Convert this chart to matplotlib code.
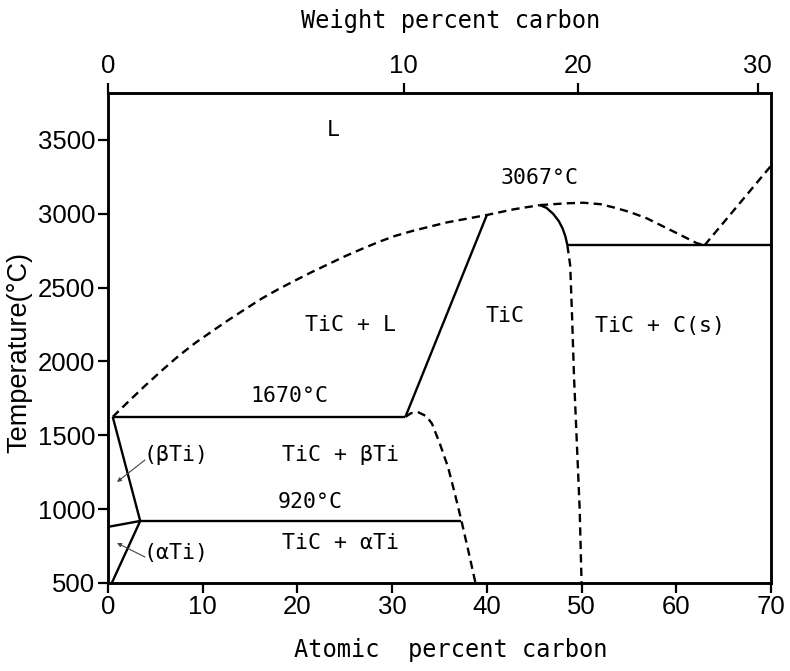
import matplotlib
matplotlib.use('Agg')
import matplotlib.pyplot as plt
from matplotlib import font_manager

# Ti-C phase diagram
# liquidus, Ti-rich side (dashed)
liq_x = [0.5, 2.1, 3.9, 5.7, 7.4, 9.2, 11.0, 12.7, 14.5, 16.2, 18.0, 19.8,
         21.5, 23.3, 25.0, 26.8, 28.6, 30.3, 32.2, 35.8, 40.0, 42.8, 45.6]
liq_T = [1625, 1725, 1835, 1940, 2035, 2125, 2205, 2280, 2355, 2425, 2490, 2550,
         2605, 2660, 2712, 2762, 2810, 2850, 2885, 2942, 2992, 3030, 3059]

# liquidus over the congruent maximum and down to the TiC+C eutectic (dashed)
liq2_x = [45.6, 48.4, 50.2, 52.0, 53.4, 55.1, 56.9, 58.6, 60.4, 62.2, 63.0]
liq2_T = [3059, 3071, 3075, 3065, 3043, 3012, 2969, 2915, 2858, 2800, 2788]

# graphite liquidus (dashed)
gr_x = [63.0, 70.0]
gr_T = [2788, 3325]

# TiC + C eutectic line
eut2_x = [48.5, 70.0]
eut2_T = [2788, 2788]

# TiC solidus, carbon-poor side (solid)
sol_x = [31.4, 40.0]
sol_T = [1625, 2992]

# TiC solidus, carbon-rich side (solid arc)
solr_x = [45.6, 46.3, 47.0, 47.6, 48.0, 48.3, 48.5]
solr_T = [3059, 3040, 3000, 2950, 2900, 2845, 2788]

# TiC carbon-rich boundary below the eutectic (dashed)
tcr_x = [48.5, 48.8, 49.0, 49.2, 49.5, 49.8, 50.0]
tcr_T = [2788, 2650, 2300, 1900, 1450, 1000, 500]

# TiC carbon-poor boundary below 1670 (dashed)
tcl_x = [31.4, 32.0, 32.8, 33.6, 34.2, 35.0, 35.9, 36.6, 37.3, 38.0, 38.8]
tcl_T = [1625, 1650, 1655, 1630, 1580, 1450, 1285, 1110, 926, 730, 500]

# eutectic (1670) and eutectoid (920) lines
eut_x = [0.5, 31.4]
eut_T = [1625, 1625]
eoid_x = [3.4, 37.3]
eoid_T = [920, 920]

# Ti-rich corner
beta_x = [0.5, 3.4]
beta_T = [1625, 920]
ab_x = [0.0, 3.4]
ab_T = [880, 920]
alpha_x = [3.4, 0.4]
alpha_T = [920, 500]

x_ticks = [0, 10, 20, 30, 40, 50, 60, 70]
y_ticks = [500, 1000, 1500, 2000, 2500, 3000, 3500]
wt_tick_at = [0, 31.2, 49.6, 68.6]
wt_labels = ['0', '10', '20', '30']

labels = [
    ('L', 23.8, 3567),
    ('3067°C', 45.6, 3242),
    ('TiC + L', 25.6, 2247),
    ('TiC', 41.9, 2308),
    ('TiC + C(s)', 58.3, 2240),
    ('1670°C', 19.2, 1766),
    ('TiC + βTi', 24.5, 1367),
    ('920°C', 21.3, 1048),
    ('TiC + αTi', 24.5, 771),
    ('(βTi)', 7.2, 1367),
    ('(αTi)', 7.2, 703),
]


def pick_font(names):
    for n in names:
        try:
            font_manager.findfont(n, fallback_to_default=False)
            return n
        except Exception:
            pass
    return 'DejaVu Sans'


tick_font = pick_font(['Liberation Sans Narrow', 'Liberation Sans'])
mono = 'DejaVu Sans Mono'

fig = plt.figure(figsize=(7.9, 6.71), dpi=100)
ax = fig.add_axes([108 / 790, 1 - 583 / 671, (771 - 108) / 790, (583 - 93) / 671])

lw = 1.7
dash = (0, (3.5, 2.2))
kw_s = dict(color='black', lw=lw, solid_capstyle='butt', solid_joinstyle='round')
kw_d = dict(color='black', lw=lw, linestyle=dash, dash_capstyle='butt')

ax.plot(liq_x, liq_T, **kw_d)
ax.plot(liq2_x, liq2_T, **kw_d)
ax.plot(gr_x, gr_T, **kw_d)
ax.plot(tcr_x, tcr_T, **kw_d)
ax.plot(tcl_x, tcl_T, **kw_d)

ax.plot(eut2_x, eut2_T, **kw_s)
ax.plot(sol_x, sol_T, **kw_s)
ax.plot(solr_x, solr_T, **kw_s)
ax.plot(eut_x, eut_T, **kw_s)
ax.plot(eoid_x, eoid_T, **kw_s)
ax.plot(beta_x, beta_T, **kw_s)
ax.plot(ab_x, ab_T, **kw_s)
ax.plot(alpha_x, alpha_T, **kw_s)

for s, x, y in labels:
    ax.text(x, y, s, ha='center', va='center', fontsize=15.5, family=mono)

# leaders from the phase names to the small fields
arr = dict(arrowstyle='-|>', color='#444444', lw=0.8, mutation_scale=6,
           shrinkA=0, shrinkB=0)
ax.annotate('', xy=(0.95, 1184), xytext=(3.9, 1333), arrowprops=arr)
ax.annotate('', xy=(0.95, 771), xytext=(3.9, 676), arrowprops=arr)

ax.set_xlim(0, 70)
ax.set_ylim(500, 3818)
ax.set_xticks(x_ticks)
ax.set_yticks(y_ticks)
ax.tick_params(axis='both', direction='out', length=7, width=1.6,
               labelsize=18.5, pad=2)
for t in ax.get_xticklabels() + ax.get_yticklabels():
    t.set_family(tick_font)
for sp in ax.spines.values():
    sp.set_linewidth(1.8)

ax.set_xlabel('Atomic  percent carbon', fontsize=17, family=mono)
ax.xaxis.set_label_coords(0.517, -0.113)
ax.set_ylabel('Temperature(°C)', fontsize=19.5, family='Liberation Sans')
ax.yaxis.set_label_coords(-0.114, 0.471)

top = ax.twiny()
top.set_xlim(ax.get_xlim())
top.set_xticks(wt_tick_at)
top.set_xticklabels(wt_labels)
top.tick_params(axis='x', direction='out', length=7, width=1.6,
                labelsize=18.5, pad=4)
for t in top.get_xticklabels():
    t.set_family(tick_font)
for sp in top.spines.values():
    sp.set_linewidth(1.8)
top.set_xlabel('Weight percent carbon', fontsize=17, family=mono)
top.xaxis.set_label_coords(0.517, 1.133)

fig.savefig('out.png', dpi=100)
